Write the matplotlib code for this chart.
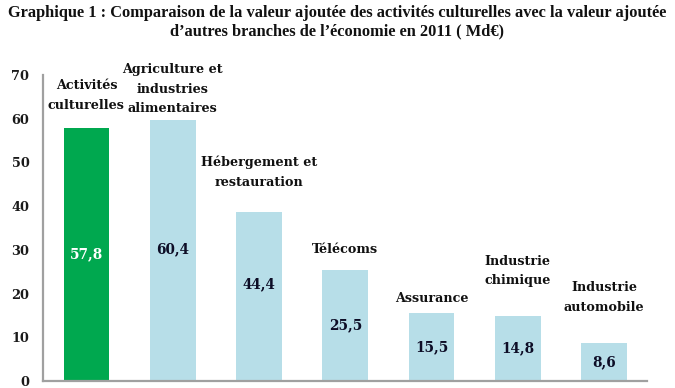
import matplotlib
matplotlib.use("Agg")
import matplotlib.pyplot as plt

categories = ["Activités\nculturelles", "Agriculture et\nindustries\nalimentaires",
              "Hébergement et\nrestauration", "Télécoms", "Assurance",
              "Industrie\nchimique", "Industrie\nautomobile"]
values = [57.8, 60.4, 44.4, 25.5, 15.5, 14.8, 8.6]
bar_heights = [57.8, 59.8, 38.7, 25.5, 15.5, 14.8, 8.6]
value_labels = ["57,8", "60,4", "44,4", "25,5", "15,5", "14,8", "8,6"]
yticks = [0, 10, 20, 30, 40, 50, 60, 70]

# layout: vertical centre of each category label (data units)
label_y = [65.3, 66.7, 47.8, 30.1, 18.9, 25.2, 19.1]

green = "#00A84F"
blue = "#B7DEE8"
colors = [green] + [blue] * (len(values) - 1)
text_colors = ["white"] + ["#0d0d26"] * (len(values) - 1)

fig = plt.figure(figsize=(6.75, 3.88), dpi=100)
ax = fig.add_axes([0.0641, 0.018, 0.8949, 0.7886])

x = list(range(len(values)))
ax.bar(x, bar_heights, width=0.53, color=colors, edgecolor="none")

for i in x:
    ax.text(i, values[i] / 2, value_labels[i], ha="center", va="center",
            color=text_colors[i], fontsize=9.8, fontweight="bold",
            family="DejaVu Serif")
    ax.text(i, label_y[i], categories[i], ha="center", va="center",
            color="#111111", fontsize=9.2, fontweight="bold",
            family="DejaVu Serif", linespacing=1.65)

ax.set_xlim(-0.5, len(values) - 0.5)
ax.set_ylim(0, 70)
ax.set_yticks(yticks)
ax.set_yticklabels([str(t) for t in yticks], family="DejaVu Serif",
                   fontweight="bold", fontsize=9.3, color="#1a1a1a")
ax.set_xticks([])
ax.tick_params(axis="y", length=0, pad=10)
for s in ["top", "right"]:
    ax.spines[s].set_visible(False)
for s in ["left", "bottom"]:
    ax.spines[s].set_color("#A0A0A0")
    ax.spines[s].set_linewidth(1.6)

fig.text(0.5, 0.988, "Graphique 1 : Comparaison de la valeur ajoutée des activités culturelles avec la valeur ajoutée\nd’autres branches de l’économie en 2011 ( Md€)",
         ha="center", va="top", fontsize=11.8, fontweight="bold",
         family="Liberation Serif", color="#111111", linespacing=1.25)

fig.savefig("out.png", dpi=100)
